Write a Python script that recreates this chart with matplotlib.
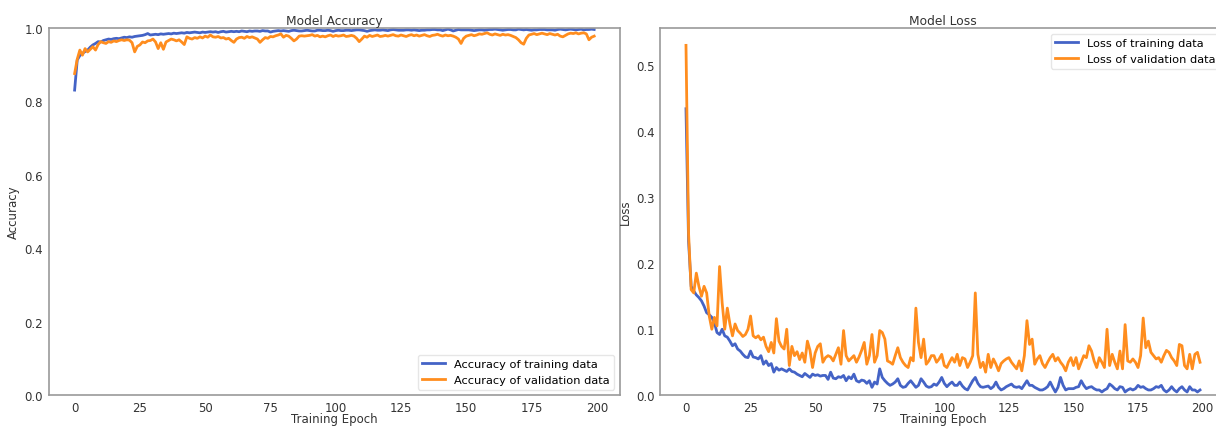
#!/usr/bin/env python3
"""Model accuracy / loss training curves, side by side."""

import matplotlib
matplotlib.use("Agg")
import matplotlib.pyplot as plt

BLUE = "#4463c6"
ORANGE = "#ff8d1e"
SPINE = "#9a9a9a"
TEXT = "#333333"

plt.rcParams.update({
    "font.family": "DejaVu Sans",
    "font.size": 8.5,
    "axes.edgecolor": SPINE,
    "axes.linewidth": 1.2,
    "axes.labelcolor": TEXT,
    "xtick.color": TEXT,
    "ytick.color": TEXT,
    "xtick.major.size": 0,
    "ytick.major.size": 0,
    "legend.edgecolor": "#e6e6e6",
})

# ── Data ────────────────────────────────────────────────────────────

train_acc = [
    0.831, 0.913, 0.925, 0.931, 0.936, 0.940, 0.948, 0.954, 0.958, 0.963,
    0.962, 0.966, 0.968, 0.970, 0.969, 0.971, 0.972, 0.971, 0.973, 0.975,
    0.974, 0.976, 0.975, 0.977, 0.978, 0.979, 0.980, 0.982, 0.985, 0.981,
    0.982, 0.983, 0.982, 0.984, 0.983, 0.984, 0.985, 0.984, 0.986, 0.985,
    0.986, 0.987, 0.986, 0.988, 0.987, 0.988, 0.989, 0.988, 0.987, 0.989,
    0.988, 0.989, 0.990, 0.989, 0.990, 0.988, 0.990, 0.991, 0.989, 0.990,
    0.991, 0.990, 0.991, 0.990, 0.992, 0.991, 0.990, 0.992, 0.991, 0.992,
    0.992, 0.991, 0.993, 0.992, 0.992, 0.989, 0.991, 0.992, 0.993, 0.992,
    0.993, 0.992, 0.991, 0.993, 0.994, 0.993, 0.992, 0.992, 0.993, 0.994,
    0.993, 0.992, 0.992, 0.994, 0.994, 0.993, 0.993, 0.994, 0.993, 0.991,
    0.993, 0.994, 0.993, 0.993, 0.994, 0.994, 0.993, 0.994, 0.995, 0.995,
    0.994, 0.993, 0.991, 0.993, 0.994, 0.995, 0.994, 0.994, 0.995, 0.994,
    0.993, 0.995, 0.996, 0.995, 0.994, 0.994, 0.994, 0.995, 0.995, 0.994,
    0.995, 0.994, 0.993, 0.994, 0.994, 0.995, 0.995, 0.996, 0.996, 0.995,
    0.995, 0.993, 0.995, 0.997, 0.995, 0.992, 0.994, 0.996, 0.995, 0.995,
    0.995, 0.995, 0.994, 0.993, 0.994, 0.995, 0.995, 0.994, 0.995, 0.996,
    0.996, 0.997, 0.996, 0.995, 0.994, 0.995, 0.996, 0.996, 0.995, 0.995,
    0.997, 0.996, 0.995, 0.996, 0.995, 0.994, 0.995, 0.995, 0.996, 0.996,
    0.996, 0.995, 0.995, 0.995, 0.994, 0.996, 0.997, 0.996, 0.995, 0.996,
    0.997, 0.996, 0.995, 0.996, 0.997, 0.995, 0.996, 0.996, 0.997, 0.996,
]

val_acc = [
    0.876, 0.915, 0.940, 0.926, 0.944, 0.935, 0.942, 0.949, 0.940, 0.955,
    0.963, 0.960, 0.958, 0.963, 0.961, 0.965, 0.963, 0.966, 0.968, 0.966,
    0.968, 0.967, 0.960, 0.935, 0.950, 0.954, 0.962, 0.960, 0.965, 0.966,
    0.970, 0.962, 0.944, 0.960, 0.942, 0.962, 0.966, 0.970, 0.968, 0.965,
    0.968, 0.962, 0.955, 0.976, 0.972, 0.970, 0.974, 0.972, 0.976, 0.973,
    0.978, 0.975, 0.981, 0.976, 0.975, 0.977, 0.973, 0.974, 0.970, 0.972,
    0.966, 0.961, 0.970, 0.974, 0.975, 0.972, 0.977, 0.974, 0.976, 0.973,
    0.970, 0.961, 0.968, 0.974, 0.972, 0.977, 0.976, 0.979, 0.981, 0.984,
    0.975, 0.980, 0.978, 0.972, 0.965, 0.970, 0.978, 0.979, 0.978, 0.979,
    0.980, 0.982, 0.978, 0.980, 0.976, 0.978, 0.976, 0.979, 0.981, 0.977,
    0.980, 0.978, 0.979, 0.981, 0.977, 0.978, 0.980, 0.978, 0.972, 0.963,
    0.970, 0.978, 0.975, 0.980, 0.977, 0.979, 0.981, 0.977, 0.978, 0.980,
    0.978, 0.980, 0.982, 0.979, 0.978, 0.981, 0.979, 0.977, 0.980, 0.982,
    0.979, 0.981, 0.978, 0.980, 0.982, 0.979, 0.977, 0.980, 0.981, 0.983,
    0.980, 0.978, 0.981, 0.979, 0.980, 0.978, 0.975, 0.970, 0.958, 0.972,
    0.978, 0.980, 0.982, 0.979, 0.981, 0.984, 0.983, 0.985, 0.987, 0.983,
    0.981, 0.984, 0.982, 0.980, 0.983, 0.981, 0.982, 0.980, 0.977, 0.974,
    0.968, 0.960, 0.956, 0.972, 0.981, 0.983, 0.985, 0.982, 0.984, 0.986,
    0.984, 0.982, 0.985, 0.983, 0.981, 0.983, 0.978, 0.976, 0.980, 0.984,
    0.986, 0.985, 0.987, 0.984, 0.986, 0.987, 0.984, 0.968, 0.975, 0.978,
]

train_loss = [
    0.434, 0.233, 0.165, 0.158, 0.152, 0.148, 0.143, 0.135, 0.125, 0.122,
    0.118, 0.110, 0.095, 0.092, 0.100, 0.090, 0.088, 0.082, 0.075, 0.078,
    0.070, 0.067, 0.062, 0.058, 0.057, 0.067, 0.058, 0.057, 0.055, 0.060,
    0.047, 0.052, 0.045, 0.048, 0.035, 0.042, 0.038, 0.040, 0.038, 0.036,
    0.040, 0.036, 0.035, 0.032, 0.030, 0.028, 0.033, 0.030, 0.027, 0.032,
    0.030, 0.031, 0.029, 0.030, 0.030, 0.024, 0.035, 0.026, 0.025, 0.028,
    0.027, 0.030, 0.022, 0.028, 0.025, 0.032, 0.022, 0.020, 0.023, 0.022,
    0.018, 0.022, 0.012, 0.020, 0.017, 0.040, 0.027, 0.022, 0.018, 0.015,
    0.017, 0.020, 0.025, 0.015, 0.012, 0.013, 0.018, 0.022, 0.017, 0.012,
    0.015, 0.025, 0.020, 0.014, 0.012, 0.013, 0.017, 0.015, 0.020, 0.027,
    0.018, 0.013, 0.017, 0.020, 0.015, 0.015, 0.020, 0.014, 0.010, 0.008,
    0.015, 0.022, 0.027, 0.018, 0.013, 0.012, 0.013, 0.014, 0.010, 0.013,
    0.020, 0.012, 0.008, 0.010, 0.013, 0.015, 0.017, 0.013, 0.012, 0.013,
    0.010, 0.016, 0.022, 0.015, 0.015, 0.012, 0.010, 0.008, 0.008, 0.010,
    0.013, 0.020, 0.012, 0.005, 0.012, 0.027, 0.015, 0.008, 0.010, 0.010,
    0.010, 0.012, 0.013, 0.022, 0.015, 0.010, 0.012, 0.013, 0.010, 0.008,
    0.008, 0.005, 0.008, 0.010, 0.017, 0.014, 0.010, 0.008, 0.013, 0.012,
    0.005, 0.008, 0.010, 0.008, 0.010, 0.015, 0.012, 0.013, 0.010, 0.008,
    0.008, 0.010, 0.013, 0.012, 0.015, 0.008, 0.005, 0.008, 0.013, 0.008,
    0.005, 0.010, 0.013, 0.008, 0.005, 0.013, 0.008, 0.008, 0.005, 0.008,
]

val_loss = [
    0.530, 0.245, 0.160, 0.155, 0.185, 0.165, 0.150, 0.165, 0.155, 0.120,
    0.100, 0.118, 0.105, 0.195, 0.140, 0.100, 0.132, 0.108, 0.090, 0.108,
    0.098, 0.094, 0.089, 0.092, 0.100, 0.120, 0.090, 0.087, 0.090, 0.084,
    0.088, 0.074, 0.066, 0.080, 0.064, 0.116, 0.082, 0.074, 0.070, 0.100,
    0.045, 0.074, 0.060, 0.066, 0.054, 0.064, 0.050, 0.082, 0.068, 0.042,
    0.064, 0.074, 0.078, 0.050, 0.057, 0.060, 0.058, 0.052, 0.062, 0.072,
    0.047, 0.098, 0.060, 0.052, 0.056, 0.060, 0.050, 0.058, 0.068, 0.080,
    0.047, 0.060, 0.092, 0.050, 0.060, 0.098, 0.095, 0.085, 0.052, 0.050,
    0.047, 0.060, 0.072, 0.057, 0.050, 0.045, 0.042, 0.057, 0.052, 0.132,
    0.080, 0.057, 0.085, 0.047, 0.052, 0.060, 0.060, 0.050, 0.055, 0.062,
    0.045, 0.042, 0.050, 0.057, 0.050, 0.062, 0.045, 0.057, 0.055, 0.042,
    0.050, 0.060, 0.155, 0.062, 0.042, 0.050, 0.035, 0.062, 0.042, 0.055,
    0.047, 0.037, 0.048, 0.052, 0.055, 0.057, 0.050, 0.045, 0.040, 0.052,
    0.037, 0.060, 0.113, 0.077, 0.085, 0.047, 0.055, 0.060, 0.048, 0.042,
    0.050, 0.057, 0.062, 0.052, 0.057, 0.050, 0.045, 0.037, 0.050, 0.057,
    0.045, 0.057, 0.040, 0.050, 0.060, 0.057, 0.075, 0.067, 0.052, 0.042,
    0.057, 0.050, 0.042, 0.100, 0.045, 0.062, 0.050, 0.040, 0.067, 0.040,
    0.107, 0.052, 0.050, 0.055, 0.050, 0.042, 0.060, 0.117, 0.072, 0.082,
    0.065, 0.060, 0.055, 0.057, 0.050, 0.060, 0.068, 0.065, 0.057, 0.052,
    0.045, 0.077, 0.075, 0.045, 0.040, 0.062, 0.040, 0.062, 0.065, 0.050,
]

epochs = list(range(len(train_acc)))

# ── Figure ──────────────────────────────────────────────────────────

fig = plt.figure(figsize=(12.16, 4.27), dpi=100)
ax1 = fig.add_axes([0.040, 0.072, 0.470, 0.860])
ax2 = fig.add_axes([0.543, 0.072, 0.465, 0.860])

# Accuracy
ax1.plot(epochs, train_acc, color=BLUE, lw=2, label="Accuracy of training data")
ax1.plot(epochs, val_acc, color=ORANGE, lw=2, label="Accuracy of validation data")
ax1.set_ylim(0, 1.0)
ax1.set_title("Model Accuracy", fontsize=8.8, color=TEXT, pad=3)
ax1.set_ylabel("Accuracy", labelpad=3)
ax1.legend(loc="lower right", fontsize=8.2, framealpha=1)

# Loss
ax2.plot(epochs, train_loss, color=BLUE, lw=2, label="Loss of training data")
ax2.plot(epochs, val_loss, color=ORANGE, lw=2, label="Loss of validation data")
ax2.set_ylim(bottom=0)
ax2.set_title("Model Loss", fontsize=8.8, color=TEXT, pad=3)
ax2.set_ylabel("Loss", labelpad=3)
ax2.legend(loc="upper right", fontsize=8.2, framealpha=1)

for ax in (ax1, ax2):
    ax.set_xticks([0, 25, 50, 75, 100, 125, 150, 175, 200])
    ax.set_xlabel("Training Epoch", labelpad=-1)
    ax.tick_params(axis="both", labelsize=8.5, pad=4)
    ax.grid(False)

fig.savefig("out.png", dpi=100)
